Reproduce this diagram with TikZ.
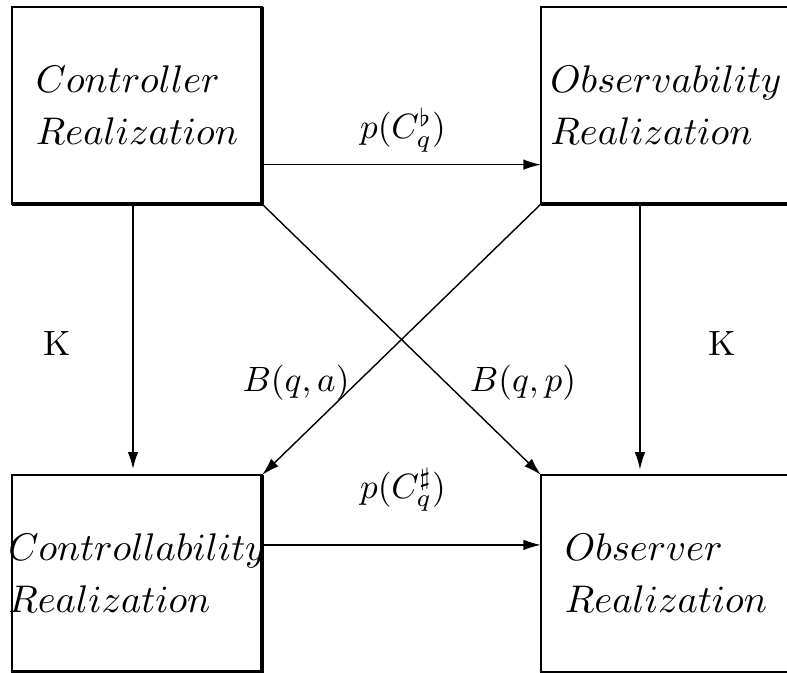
\documentclass[tikz,border=0pt]{standalone}
\usetikzlibrary{arrows.meta, positioning, calc}
\tikzset{
    realbox/.style={
        rectangle, minimum width=2.5cm, minimum height=1.97cm, inner xsep=-5pt, inner ysep=0pt, outer sep=0pt,
        draw=black, line width=0.8pt, align=left, font=\fontsize{10.95}{14.8}\selectfont
    },
    heavyedge/.style={
        draw=black, line width=1.1pt
    },
    arrow/.style={
        -{Latex[length=5pt, width=3pt]}, line width=0.4pt
    },
    thickarrow/.style={
        -{Latex[length=5pt, width=3pt]}, line width=0.7pt
    },
    maplabel/.style={
        font=\fontsize{10}{13}\selectfont
    }
}

\begin{document}
\begin{tikzpicture}[x=0.01cm, y=-0.01cm]

    \clip (0,0) rectangle (787,673);
    \useasboundingbox (0,0) rectangle (787,673);

    % ── Nodes ──
    \node[realbox] (ctrl)  at (137,105.5) {$Controller$\\$Realization$};
    \node[realbox] (obsv)  at (666,105.5) {$Observability$\\$Realization$};
    \node[realbox] (cbty)  at (137,573.5) {$Controllability$\\$Realization$};
    \node[realbox] (obsr)  at (666,573.5) {$Observer$\\$Realization$};

    \draw[heavyedge] (ctrl.north east) -- (ctrl.south east) -- (ctrl.south west);
    \draw[heavyedge] (obsv.north east) -- (obsv.south east) -- (obsv.south west);
    \draw[heavyedge] (cbty.north east) -- (cbty.south east) -- (cbty.south west);

    % ── Arrows ──
    \draw[arrow] ($(ctrl.south east)!0.2!(ctrl.north east)$) -- ($(obsv.south west)!0.2!(obsv.north west)$);
    \draw[arrow] ($(cbty.south east)!0.645!(cbty.north east)$) -- ($(obsr.south west)!0.645!(obsr.north west)$);
    \draw[thickarrow, shorten >=1.5pt] ($(ctrl.south west)!0.484!(ctrl.south east)$) -- ($(cbty.north west)!0.484!(cbty.north east)$);
    \draw[arrow, shorten >=1.5pt] ($(obsv.south west)!0.396!(obsv.south east)$) -- ($(obsr.north west)!0.396!(obsr.north east)$);
    \draw[arrow] (ctrl.south east) -- (obsr.north west);
    \draw[arrow] (obsv.south west) -- (cbty.north east);

    % ── Labels ──
    \node[maplabel] (pflat)  at (403,130) {$p(C_q^\flat)$};
    \node[maplabel] (psharp) at (403,490) {$p(C_q^\sharp)$};
    \node[maplabel] (kleft)  at (57,343)  {K};
    \node[maplabel] (kright) at (722,343) {K};
    \node[maplabel] (bqa)    at (296,383) {$B(q,a)$};
    \node[maplabel] (bqp)    at (523,383) {$B(q,p)$};

\end{tikzpicture}
\end{document}
